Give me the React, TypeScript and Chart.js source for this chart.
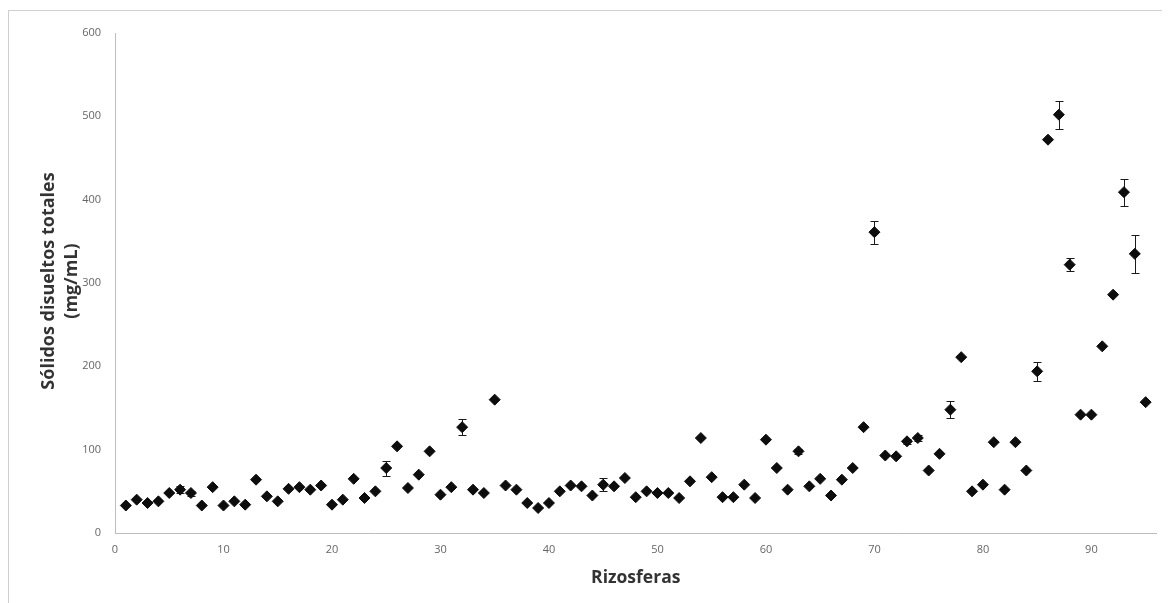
import { useEffect, useRef } from "react";
import { Chart, registerables } from "chart.js";

Chart.register(...registerables);

const rizosferas = [
  1, 2, 3, 4, 5, 6, 7, 8, 9, 10, 11, 12, 13, 14, 15, 16, 17, 18, 19, 20,
  21, 22, 23, 24, 25, 26, 27, 28, 29, 30, 31, 32, 33, 34, 35, 36, 37, 38, 39, 40,
  41, 42, 43, 44, 45, 46, 47, 48, 49, 50, 51, 52, 53, 54, 55, 56, 57, 58, 59, 60,
  61, 62, 63, 64, 65, 66, 67, 68, 69, 70, 71, 72, 73, 74, 75, 76, 77, 78, 79, 80,
  81, 82, 83, 84, 85, 86, 87, 88, 89, 90, 91, 92, 93, 94, 95,
];

const solidos = [
  33, 40, 36, 38, 48, 52, 48, 33, 55, 33, 38, 34, 64, 44, 38, 53, 55, 52, 57, 34,
  40, 65, 42, 50, 78, 104, 54, 70, 98, 46, 55, 127, 52, 48, 160, 57, 52, 36, 30, 36,
  50, 57, 56, 45, 58, 56, 66, 43, 50, 48, 48, 42, 62, 114, 67, 43, 43, 58, 42, 112,
  78, 52, 98, 56, 65, 45, 64, 78, 127, 361, 93, 92, 110, 114, 75, 95, 148, 211, 50, 58,
  109, 52, 109, 75, 194, 472, 502, 322, 142, 142, 224, 286, 409, 335, 157,
];

const errores = [
  0, 0, 0, 0, 0, 4, 3, 0, 0, 0, 0, 0, 0, 0, 0, 0, 0, 0, 0, 0,
  0, 0, 0, 0, 9, 0, 0, 0, 0, 0, 0, 10, 0, 0, 0, 0, 0, 0, 0, 0,
  0, 0, 0, 0, 8, 0, 0, 0, 0, 0, 0, 0, 0, 0, 0, 0, 0, 0, 0, 0,
  0, 0, 3, 0, 0, 0, 0, 0, 0, 14, 0, 0, 3, 3, 0, 0, 10, 0, 0, 0,
  0, 0, 0, 0, 11, 0, 17, 8, 0, 0, 0, 0, 16, 23, 0,
];

const xTickValues = [0, 10, 20, 30, 40, 50, 60, 70, 80, 90];
const yTickValues = [0, 100, 200, 300, 400, 500, 600];

const xTitle = "Rizosferas";
const yTitleLines = ["Sólidos disueltos totales", "(mg/mL)"];

const FONT = "'Open Sans', 'Liberation Sans', sans-serif";

const errorBarsPlugin = {
  id: "errorBars",
  beforeDatasetsDraw(chart: any) {
    const { ctx, scales } = chart;
    const xs = scales.x;
    const ys = scales.y;
    ctx.save();
    ctx.strokeStyle = "#1a1a1a";
    ctx.lineWidth = 1;
    rizosferas.forEach((r, i) => {
      const e = errores[i];
      if (!e) return;
      const px = Math.round(xs.getPixelForValue(r)) + 0.5;
      const top = Math.round(ys.getPixelForValue(solidos[i] + e)) + 0.5;
      const bot = Math.round(ys.getPixelForValue(solidos[i] - e)) + 0.5;
      ctx.beginPath();
      ctx.moveTo(px, top);
      ctx.lineTo(px, bot);
      ctx.moveTo(px - 4, top);
      ctx.lineTo(px + 4, top);
      ctx.moveTo(px - 4, bot);
      ctx.lineTo(px + 4, bot);
      ctx.stroke();
    });
    ctx.restore();
  },
};

const yTitlePlugin = {
  id: "yTitle",
  afterDraw(chart: any) {
    const { ctx, chartArea } = chart;
    const cy = (chartArea.top + chartArea.bottom) / 2 - 2;
    ctx.save();
    ctx.fillStyle = "#333333";
    ctx.font = `bold 18px ${FONT}`;
    ctx.textAlign = "center";
    ctx.textBaseline = "middle";
    ctx.translate(39.5, cy);
    ctx.rotate(-Math.PI / 2);
    yTitleLines.forEach((line, i) => {
      ctx.fillText(line, 0, i * 23);
    });
    ctx.restore();
  },
};

export default function App() {
  const canvasRef = useRef<HTMLCanvasElement | null>(null);

  useEffect(() => {
    if (!canvasRef.current) return;
    const chart = new Chart(canvasRef.current, {
      type: "scatter",
      data: {
        datasets: [
          {
            label: "Sólidos disueltos totales",
            data: rizosferas.map((r, i) => ({ x: r, y: solidos[i] })),
            pointStyle: "rectRot",
            pointRadius: 5.5,
            pointHoverRadius: 5.5,
            backgroundColor: "#0d0d0d",
            borderColor: "#0d0d0d",
            borderWidth: 1,
            showLine: false,
          },
        ],
      },
      options: {
        animation: false,
        responsive: false,
        layout: { padding: { top: 22, right: 3, bottom: 0, left: 0 } },
        plugins: {
          legend: { display: false },
          tooltip: { enabled: false },
          title: { display: false },
        },
        scales: {
          x: {
            type: "linear",
            min: 0,
            max: 96,
            grid: { display: false, drawTicks: false },
            border: { display: true, color: "#bdbdbd", width: 1 },
            afterFit(scale: any) {
              scale.height = 78;
            },
            afterBuildTicks(scale: any) {
              scale.ticks = xTickValues.map((v) => ({ value: v }));
            },
            ticks: {
              padding: 10,
              color: "#666666",
              font: { family: FONT, size: 11 },
              maxRotation: 0,
              autoSkip: false,
            },
            title: {
              display: true,
              text: xTitle,
              color: "#333333",
              font: { family: FONT, size: 17.5, weight: "bold" },
              padding: { top: 0, bottom: 22 },
            },
          },
          y: {
            type: "linear",
            min: 0,
            max: 600,
            grid: { display: false, drawTicks: false },
            border: { display: true, color: "#bdbdbd", width: 1 },
            afterFit(scale: any) {
              scale.width = 106;
            },
            afterBuildTicks(scale: any) {
              scale.ticks = yTickValues.map((v) => ({ value: v }));
            },
            ticks: {
              padding: 14,
              color: "#666666",
              font: { family: FONT, size: 11 },
            },
          },
        },
      },
      plugins: [errorBarsPlugin, yTitlePlugin],
    });
    return () => chart.destroy();
  }, []);

  return (
    <div
      style={{
        marginTop: 2,
        width: 1154,
        height: 600,
        border: "1px solid #cfcfcf",
        background: "#ffffff",
      }}
    >
      <canvas ref={canvasRef} width={1154} height={600} style={{ display: "block" }} />
    </div>
  );
}
